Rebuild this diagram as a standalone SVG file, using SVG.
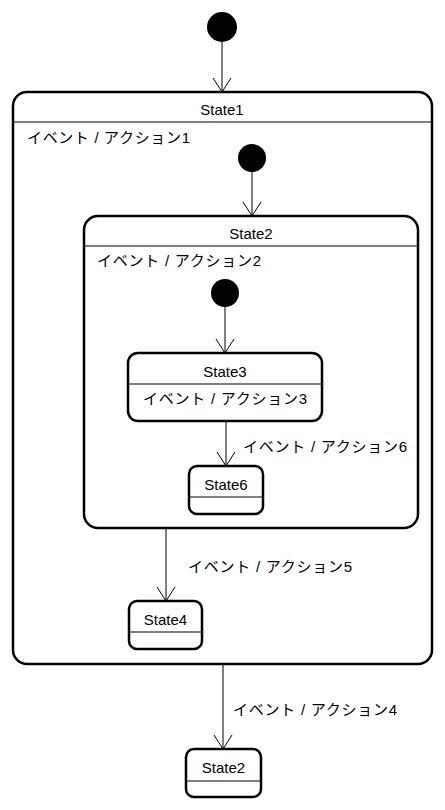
<svg xmlns="http://www.w3.org/2000/svg" width="445" height="810" viewBox="0 0 445 810">
<style>
.box{fill:#fff;stroke:#000;stroke-width:2.5}
.div{stroke:#000;stroke-width:1}
.init{fill:#000}
.t{font-family:"Liberation Sans","Noto Sans CJK JP",sans-serif;font-size:15px;fill:#000}
.c{text-anchor:middle}
.edge{stroke:#000;stroke-width:1;fill:none}
</style>
<defs>
<marker id="arr" markerWidth="20" markerHeight="20" refX="15" refY="10" orient="auto" markerUnits="userSpaceOnUse" viewBox="0 0 20 20">
<path d="M1,1 L15,10 L1,19" fill="none" stroke="#000" stroke-width="1"/>
</marker>
</defs>
<g id="init1"><circle class="init" cx="222" cy="27" r="15"/></g>
<g id="State1">
<rect class="box" x="13" y="92" width="419" height="572" rx="14"/>
<line class="div" x1="13" y1="122" x2="432" y2="122"/>
<text class="t c" x="222" y="115">State1</text>
<text class="t" x="27" y="143" textLength="163">イベント / アクション1</text>
</g>
<g id="init2"><circle class="init" cx="252" cy="158" r="14"/></g>
<g id="State2">
<rect class="box" x="84" y="216" width="334" height="312" rx="14"/>
<line class="div" x1="84" y1="246" x2="418" y2="246"/>
<text class="t c" x="251" y="239">State2</text>
<text class="t" x="97" y="266" textLength="164">イベント / アクション2</text>
</g>
<g id="init3"><circle class="init" cx="225" cy="293" r="14"/></g>
<g id="State3">
<rect class="box" x="128" y="353" width="194" height="68" rx="10"/>
<line class="div" x1="128" y1="384" x2="322" y2="384"/>
<text class="t c" x="225" y="377">State3</text>
<text class="t c" x="225" y="404" textLength="164">イベント / アクション3</text>
</g>
<g id="State6">
<rect class="box" x="189" y="466" width="74" height="48" rx="8"/>
<line class="div" x1="189" y1="497" x2="263" y2="497"/>
<text class="t c" x="226" y="490">State6</text>
</g>
<g id="State4">
<rect class="box" x="129" y="601" width="73" height="48" rx="8"/>
<line class="div" x1="129" y1="632" x2="202" y2="632"/>
<text class="t c" x="165.5" y="625">State4</text>
</g>
<g id="State2b">
<rect class="box" x="186" y="749" width="75" height="48" rx="8"/>
<line class="div" x1="186" y1="781" x2="261" y2="781"/>
<text class="t c" x="223.5" y="773">State2</text>
</g>
<g id="connectors">
<line class="edge" x1="222" y1="42" x2="222" y2="92" marker-end="url(#arr)"/>
<line class="edge" x1="252" y1="172" x2="252" y2="216" marker-end="url(#arr)"/>
<line class="edge" x1="225" y1="307" x2="225" y2="353" marker-end="url(#arr)"/>
<line class="edge" x1="226" y1="421" x2="226" y2="466" marker-end="url(#arr)"/>
<text class="t" x="243" y="452" textLength="164">イベント / アクション6</text>
<line class="edge" x1="166" y1="528" x2="166" y2="601" marker-end="url(#arr)"/>
<text class="t" x="188" y="572" textLength="164">イベント / アクション5</text>
<line class="edge" x1="223" y1="664" x2="223" y2="749" marker-end="url(#arr)"/>
<text class="t" x="233" y="715" textLength="164">イベント / アクション4</text>
</g>
</svg>
